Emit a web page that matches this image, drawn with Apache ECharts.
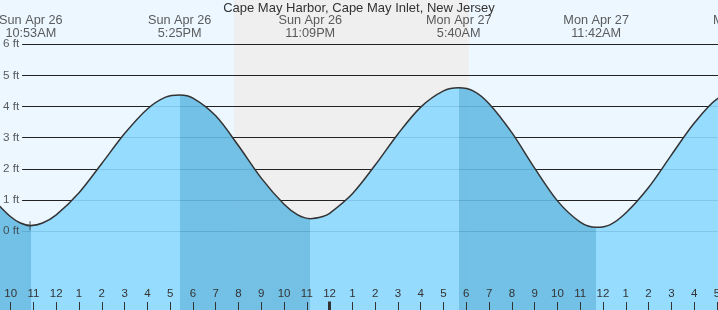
<!DOCTYPE html>
<html>
<head>
<meta charset="utf-8">
<script src="https://cdn.jsdelivr.net/npm/echarts@6/dist/echarts.min.js"></script>
<style>
html,body{margin:0;padding:0;background:#edf7ff;}
#chart{width:718px;height:310px;}
</style>
</head>
<body>
<div id="chart"></div>
<script>
// ---- data (hours counted from Sun Apr 26 00:00) ----
const TITLE = 'Cape May Harbor, Cape May Inlet, New Jersey';
const TIDE_HOURS = [9.0, 9.53, 10, 10.4, 10.883, 11.4, 12, 13, 14, 15, 16, 16.8, 17.417, 18, 19, 20, 21, 22, 22.6, 23.15,
  23.7, 24, 25, 26, 27, 28, 29, 29.667, 30.3, 31, 32, 33, 34, 35, 35.7, 36.3, 37, 38, 39, 40, 41, 42.27];
const TIDE_FEET = [1.2, 0.79, 0.46, 0.27, 0.18, 0.26, 0.52, 1.23, 2.17, 3.13, 3.92, 4.30, 4.37, 4.27, 3.70, 2.74, 1.70, 0.86, 0.52, 0.40,
  0.47, 0.57, 1.20, 2.12, 3.12, 3.98, 4.50, 4.60, 4.50, 4.09, 3.16, 2.02, 0.97, 0.29, 0.12, 0.20, 0.58, 1.40, 2.44, 3.46, 4.24, 4.60];
const EVENT_HOURS = [10.883, 17.417, 23.15, 29.667, 35.7, 42.27];
const EVENT_TYPES = ['L', 'H', 'L', 'H', 'L', 'H'];
const EVENT_DATES = ['Sun Apr 26', 'Sun Apr 26', 'Sun Apr 26', 'Mon Apr 27', 'Mon Apr 27', 'Mon Apr 27'];
const EVENT_TIMES = ['10:53AM', '5:25PM', '11:09PM', '5:40AM', '11:42AM', '6:16PM'];
const HOUR_TICKS = [10, 11, 12, 13, 14, 15, 16, 17, 18, 19, 20, 21, 22, 23, 24, 25, 26, 27, 28, 29, 30, 31, 32, 33, 34, 35, 36, 37, 38, 39, 40, 41];
const MIDNIGHT_TICKS = [24];
const FT_LEVELS = [0, 1, 2, 3, 4, 5, 6];
const NIGHT_START = 19.8;   // sunset
const NIGHT_END = 30.115;   // sunrise
const NOW_HOUR = 10.85;
const NOW_FEET = 0.17;

// ---- layout / style ----
const X_MIN = 9.5303, X_MAX = 41.049;
const Y_MIN = -2.533, Y_MAX = 7.419;
const LABEL_Y = 6.56;
const GRIDLINE_START = 10.5;
const FONT = 'Liberation Sans';
const TEXT = '#333';
const DAY_BG = '#edf7ff', NIGHT_BG = '#efefef';
const FILL_LIGHT = '#8cd9ff', FILL_DARK = '#65bbe3';

const tide = TIDE_HOURS.map((h, i) => [h, TIDE_FEET[i]]);

const pieces = [];
EVENT_HOURS.forEach((h, i) => {
  const color = EVENT_TYPES[i] === 'L' ? FILL_DARK : FILL_LIGHT;
  if (i === 0) pieces.push({ lt: h, color });
  else pieces.push({ gte: EVENT_HOURS[i - 1], lt: h, color });
});
pieces.push({ gte: EVENT_HOURS[EVENT_HOURS.length - 1],
  color: EVENT_TYPES[EVENT_TYPES.length - 1] === 'H' ? FILL_DARK : FILL_LIGHT });

const chart = echarts.init(document.getElementById('chart'), null, { renderer: 'canvas' });
chart.setOption({
  animation: false,
  backgroundColor: DAY_BG,
  textStyle: { fontFamily: FONT },
  title: {
    text: TITLE, left: 'center', top: 0, padding: [2, 0, 0, 0],
    textStyle: { fontFamily: FONT, fontSize: 13, fontWeight: 'normal', color: TEXT }
  },
  grid: { left: 0, right: 0, top: 0, bottom: 0, outerBoundsMode: 'none', containLabel: false },
  xAxis: [{
    type: 'value', min: X_MIN, max: X_MAX, position: 'bottom', z: 10,
    axisLine: { show: false, onZero: false }, splitLine: { show: false },
    axisTick: { show: true, inside: true, length: 8, customValues: HOUR_TICKS, lineStyle: { color: TEXT, width: 1 } },
    axisLabel: {
      show: true, inside: true, margin: 10, customValues: HOUR_TICKS,
      fontFamily: FONT, fontSize: 11.5, color: TEXT,
      formatter: v => String((Math.round(v) % 12) || 12)
    }
  }, {
    type: 'value', min: X_MIN, max: X_MAX, position: 'bottom', z: 10,
    axisLine: { show: false, onZero: false }, splitLine: { show: false }, axisLabel: { show: false },
    axisTick: { show: true, inside: true, length: 8.5, customValues: MIDNIGHT_TICKS, lineStyle: { color: TEXT, width: 3 } }
  }],
  yAxis: { type: 'value', min: Y_MIN, max: Y_MAX, show: false },
  visualMap: { type: 'piecewise', show: false, dimension: 0, seriesIndex: 1, pieces },
  series: [{
    type: 'line', z: 1, data: [], silent: true,
    markArea: {
      z: 1, silent: true,
      itemStyle: { color: NIGHT_BG },
      data: [[{ xAxis: NIGHT_START }, { xAxis: NIGHT_END }]]
    },
    markLine: {
      z: 2, silent: true, symbol: ['none', 'none'],
      label: { show: false },
      lineStyle: { color: '#222', width: 1, type: 'solid' },
      data: FT_LEVELS.map(v => [{ coord: [GRIDLINE_START, v] }, { coord: [X_MAX, v] }])
    }
  }, {
    type: 'line', z: 3, data: tide, smooth: 0.3,
    showSymbol: false, silent: true,
    lineStyle: { color: '#333', width: 1.5 },
    areaStyle: { opacity: 0.9, origin: 'start' }
  }, {
    type: 'scatter', z: 5, clip: false, silent: true,
    symbolSize: 1, itemStyle: { color: 'transparent' },
    data: FT_LEVELS.map(v => [X_MIN, v]),
    label: {
      show: true, position: 'right', distance: 2.5,
      formatter: p => p.value[1] + ' ft',
      fontFamily: FONT, fontSize: 11.7, color: TEXT
    }
  }, {
    type: 'scatter', z: 5, clip: false, silent: true,
    symbolSize: 1, itemStyle: { color: 'transparent' },
    data: EVENT_HOURS.map(h => [h, LABEL_Y]),
    label: {
      show: true, position: 'inside',
      formatter: p => EVENT_DATES[p.dataIndex] + '\n' + EVENT_TIMES[p.dataIndex],
      fontFamily: FONT, fontSize: 12.7, lineHeight: 13.5, color: TEXT
    }
  }, {
    type: 'scatter', z: 6, clip: false, silent: true,
    symbol: 'path://M0,4 L7,4 L7,5 L0,5 Z M3,0 L4,0 L4,9 L3,9 Z',
    symbolSize: [7, 9], itemStyle: { color: '#333' },
    data: [[NOW_HOUR, NOW_FEET]]
  }]
});
</script>
</body>
</html>
